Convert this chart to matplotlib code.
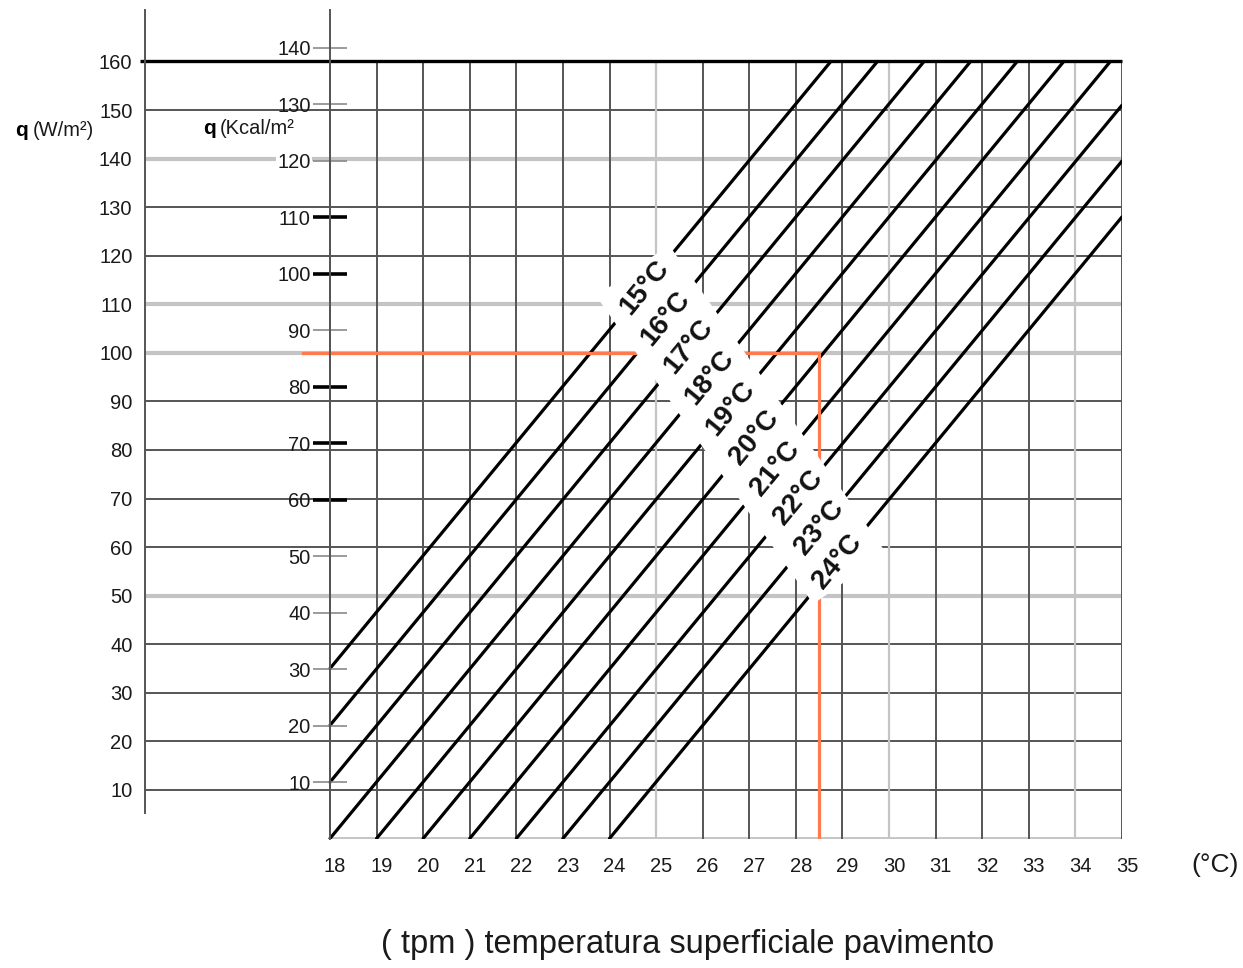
import numpy as np
import matplotlib
matplotlib.use("Agg")
import matplotlib.pyplot as plt
from matplotlib.transforms import ScaledTranslation

plt.rcParams['font.family'] = ['Liberation Sans', 'DejaVu Sans']

# axis values
w_ticks = list(range(10, 170, 10))          # q in W/m2
kcal_ticks = list(range(10, 150, 10))       # q in kcal/m2 h
kcal_bold = [110, 100, 80, 70, 60]          # ticks drawn black and thick
temps = list(range(18, 36))                 # floor surface temperature
light_rows = [140, 110, 100, 50]            # light grey horizontal lines
light_cols = [25, 30, 34]                   # light grey vertical lines

# room temperature lines, end points
room_temps = [15, 16, 17, 18, 19, 20, 21, 22, 23, 24]
start_t = [18, 18, 18, 18, 19, 20, 21, 22, 23, 24]
start_q = [35, 23.3, 11.6, 0, 0, 0, 0, 0, 0, 0]
end_t = [28.75, 29.75, 30.75, 31.75, 32.75, 33.75, 34.75, 35, 35, 35]
end_q = [160, 160, 160, 160, 160, 160, 160, 151, 139.5, 128]
label_t = [24.75, 25.2, 25.7, 26.15, 26.6, 27.1, 27.55, 28.05, 28.5, 28.9]

# worked example (orange)
ex_q = 100
ex_t = 28.5
ex_start_t = 17.42

W_PER_KCAL = 1.163

fig = plt.figure(figsize=(12.43, 9.68), dpi=100)
x0, x1 = 14.03, 35
y0, y1 = 0, 170.6
ax = fig.add_axes([145 / 1243, 1 - 838.5 / 968, (1122 - 145) / 1243, (838.5 - 10) / 968])
ax.set_xlim(x0, x1)
ax.set_ylim(y0, y1)

dark = '#555555'
light = '#c4c4c4'
txt = '#1a1a1a'

# horizontal lines
for q in w_ticks[:-1]:
    if q in light_rows:
        ax.hlines(q, x0, 35, color=light, lw=3.0, zorder=1)
    else:
        ax.hlines(q, x0, 35, color=dark, lw=1.4, zorder=1.5)
ax.hlines(160, x0 - 0.1, 35, color='black', lw=2.4, zorder=2, clip_on=False)
ax.hlines(0, 18, 35, color=light, lw=3.5, zorder=1)

# vertical lines
for t in temps:
    c = light if t in light_cols else dark
    ax.vlines(t, 0, 160, color=c, lw=1.6 if t in light_cols else 1.4, zorder=1.5)

# room temperature lines
for i in range(len(room_temps)):
    ax.plot([start_t[i], end_t[i]], [start_q[i], end_q[i]], color='black', lw=2.3,
            solid_capstyle='round', zorder=3)

# orange example
ax.plot([ex_start_t, ex_t, ex_t], [ex_q, ex_q, 0], color='#ff7a4d', lw=2.3, zorder=3.5)

# labels on the lines, over a white band
lab_q = [np.interp(label_t[i], [start_t[i], end_t[i]], [start_q[i], end_q[i]])
         for i in range(len(room_temps))]
dt = (label_t[-1] - label_t[0]) / (len(label_t) - 1) * 0.55
dq = (lab_q[-1] - lab_q[0]) / (len(lab_q) - 1) * 0.55
ax.plot([label_t[0] - dt, label_t[-1] + dt], [lab_q[0] - dq, lab_q[-1] + dq],
        color='white', lw=64, solid_capstyle='butt', zorder=5)

p1 = ax.transData.transform((start_t[-1], start_q[-1]))
p2 = ax.transData.transform((end_t[-1], end_q[-1]))
angle = np.degrees(np.arctan2(p2[1] - p1[1], p2[0] - p1[0]))
for i, ta in enumerate(room_temps):
    ax.text(label_t[i], lab_q[i], f'{ta}°C', rotation=angle, rotation_mode='anchor',
            ha='center', va='center', fontsize=20, fontweight='bold', zorder=6,
            color='#111111')

# left axis (W/m2)
for s in ['top', 'right', 'bottom']:
    ax.spines[s].set_visible(False)
ax.spines['left'].set_bounds(5.25, y1)
ax.spines['left'].set_color(dark)
ax.spines['left'].set_linewidth(1.4)
ax.set_yticks(w_ticks)
ax.tick_params(axis='y', length=0, pad=9, labelsize=14.5, labelcolor=txt)

ax.set_xticks(temps)
ax.tick_params(axis='x', length=0, pad=13, labelsize=14.5, labelcolor=txt)
shift = ScaledTranslation(5 / 100, 0, fig.dpi_scale_trans)
for lbl in ax.get_xticklabels():
    lbl.set_transform(lbl.get_transform() + shift)

# second axis (kcal/m2) on the 18 line
loc = (18 - x0) / (x1 - x0)
sec = ax.secondary_yaxis(loc, functions=(lambda w: w / W_PER_KCAL, lambda k: k * W_PER_KCAL))
sec.patch.set_visible(False)
sec.set_zorder(4)
sec.spines['left'].set_color(dark)
sec.spines['left'].set_linewidth(1.4)
sec.set_yticks(kcal_ticks)
sec.tick_params(axis='y', direction='inout', length=24, width=1.2, color='#8a8a8a',
                pad=2, labelsize=14.5, labelcolor=txt)
for tick, k in zip(sec.yaxis.get_major_ticks(), kcal_ticks):
    if k in kcal_bold:
        tick.tick1line.set_markeredgecolor('black')
        tick.tick1line.set_markeredgewidth(2.6)
    if k == 120:
        tick.label1.set_bbox(dict(fc='white', ec='none', pad=1))

# axis titles
fig.text(15 / 1243, 1 - 130 / 968, 'q', fontsize=15, fontweight='bold', va='center')
fig.text(33 / 1243, 1 - 130 / 968, '(W/m²)', fontsize=14.5, va='center', color=txt)
fig.text(203 / 1243, 1 - 129 / 968, 'q', fontsize=15, fontweight='bold', va='center')
fig.text(220 / 1243, 1 - 129 / 968, '(Kcal/m²', fontsize=14.5, va='center', color=txt)
fig.text(1215 / 1243, 1 - 865 / 968, '(°C)', fontsize=19, ha='center', va='center',
         color=txt)
fig.text(688 / 1243, 1 - 945 / 968, '( tpm ) temperatura superficiale pavimento',
         fontsize=23.5, ha='center', va='center', color=txt)

fig.savefig('out.png', dpi=100, facecolor='white')
